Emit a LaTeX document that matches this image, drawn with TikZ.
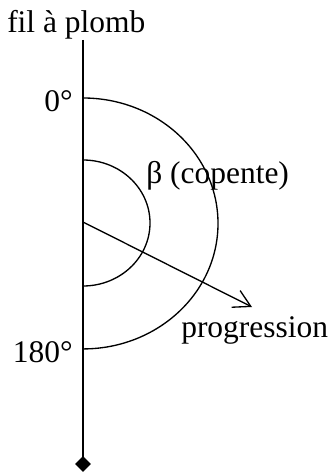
\documentclass[tikz,border=0pt]{standalone}
\usepackage{fontspec}
\setmainfont{Liberation Serif}
\usepackage{tikz}
\usetikzlibrary{shapes.geometric, arrows.meta, positioning}
\tikzset{
	fil/.style      ={line width=1.7pt, draw=black},
	plomb/.style    ={diamond, fill=black, inner sep=0pt, minimum size=12pt},
	arcline/.style  ={line width=1pt, draw=black},
	fleche/.style   ={-{Straight Barb[length=12.5pt, width=14pt, line width=1pt]}, line width=1pt},
	lbl/.style      ={inner sep=0pt, font=\fontsize{23.6}{28}\selectfont},
}
\begin{document}
\begin{tikzpicture}[x=0.75pt, y=-0.75pt]
	\useasboundingbox (0,0) rectangle (334,473);
	% fil et plomb
	\coordinate (haut) at (83,40);
	\coordinate (O) at (83,222);
	\node[plomb] (lest) at (83,464) {};
	\draw[fil] (haut) -- (lest.center);
	% arcs
	\draw[arcline] (83,98) arc[start angle=90, end angle=-90, x radius=101.25pt, y radius=94.1pt];
	\draw[arcline] (83,160) arc[start angle=90, end angle=-90, x radius=50.25pt, y radius=47.25pt];
	% progression
	\coordinate (bout) at (252,307);
	\draw[fleche] (O) -- (bout);
	% textes
	\node[lbl, anchor=base west] (titre) at (7,33) {fil à plomb};
	\node[lbl, anchor=base east] (zero) at (73,112) {0°};
	\node[lbl, anchor=base east] (demi) at (73,362) {180°};
	\node[lbl, anchor=base west] (beta) at (146,184) {β (copente)};
	\node[lbl, anchor=base west] (prog) at (181,337) {progression};
\end{tikzpicture}
\end{document}
